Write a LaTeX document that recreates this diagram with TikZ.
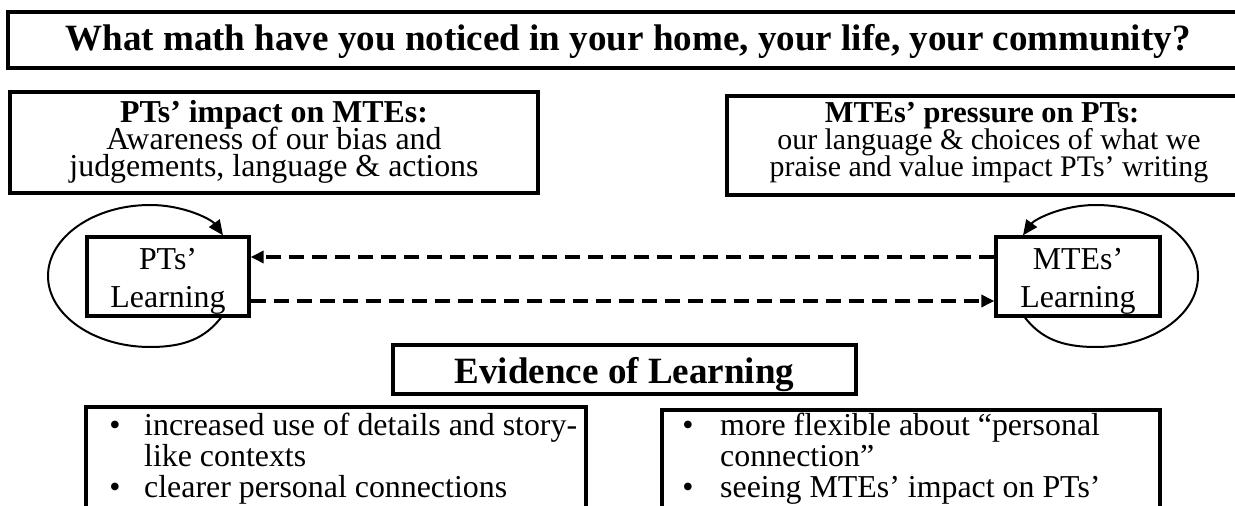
\documentclass[tikz,border=0pt]{standalone}
\usepackage{fontspec}
\setmainfont{Liberation Serif}
\usetikzlibrary{arrows.meta}
\tikzset{
  box/.style={draw, line width=3.3bp, inner sep=0pt},
  txt/.style={anchor=base, inner sep=0pt, font=\fontsize{32}{32}\selectfont},
  btxt/.style={txt, font=\fontsize{32}{32}\selectfont\bfseries},
  stxt/.style={txt, font=\fontsize{30}{30}\selectfont},
  sbtxt/.style={txt, font=\fontsize{30.5}{30}\selectfont\bfseries},
  bigtxt/.style={anchor=base, inner sep=0pt, font=\fontsize{37.2}{37}\selectfont\bfseries},
  ltxt/.style={txt, anchor=base west},
  dasharrow/.style={line width=3.3bp, dash pattern=on 15bp off 8bp, -{Triangle[length=13bp,width=12bp]}},
  looparrow/.style={line width=2bp, -{Triangle[length=15bp,width=13bp]}}
}
\begin{document}
\begin{tikzpicture}[x=1bp,y=-1bp]
\useasboundingbox (0,0) rectangle (1235,506);
\clip (0,0) rectangle (1235,506);
% boxes
\node[box, minimum width=1244bp, minimum height=56bp] (title) at (630,40) {};
\node[box, minimum width=528bp, minimum height=101bp] (lbox) at (274,142.5) {};
\node[box, minimum width=528bp, minimum height=99bp] (rbox) at (991,145.5) {};
\node[box, minimum width=162bp, minimum height=79bp] (pt) at (168,276.5) {};
\node[box, minimum width=164bp, minimum height=79bp] (mte) at (1078,276.5) {};
\node[box, minimum width=463bp, minimum height=49bp] (ev) at (624.5,369.5) {};
\node[box, minimum width=500bp, minimum height=133bp] (bl) at (336,473.5) {};
\node[box, minimum width=498bp, minimum height=130bp] (br) at (911,475) {};
% texts
\node[bigtxt] (titletxt) at (628,51) {What math have you noticed in your home, your life, your community?};
\node[btxt] (l1) at (274,123) {PTs’ impact on MTEs:};
\node[txt] (l2) at (274,150) {Awareness of our bias and};
\node[txt] (l3) at (274,177) {judgements, language \& actions};
\node[sbtxt] (r1) at (982,123) {MTEs’ pressure on PTs:};
\node[stxt] (r2) at (989,150) {our language \& choices of what we};
\node[stxt] (r3) at (989,177) {praise and value impact PTs’ writing};
\node[txt] (p1) at (168,270) {PTs’};
\node[txt] (p2) at (168,308) {Learning};
\node[txt] (m1) at (1078,270) {MTEs’};
\node[txt] (m2) at (1078,308) {Learning};
\node[bigtxt] (evtxt) at (624.5,384) {Evidence of Learning};
\node[txt] (bb1) at (115,435) {•};
\node[ltxt] (bl1) at (144,435) {increased use of details and story-};
\node[ltxt] (bl2) at (144,466) {like contexts};
\node[txt] (bb2) at (115,497) {•};
\node[ltxt] (bl3) at (144,497) {clearer personal connections};
\node[txt] (rb1) at (688,435) {•};
\node[ltxt] (br1) at (720,435) {more flexible about “personal};
\node[ltxt] (br2) at (720,466) {connection”};
\node[txt] (rb2) at (688,497) {•};
\node[ltxt] (br3) at (720,497) {seeing MTEs’ impact on PTs’};
% dashed connectors
\draw[dasharrow] ([yshift=19.5bp]mte.west) -- ([yshift=19.5bp]pt.east);
\draw[dasharrow] ([yshift=-24.5bp]pt.east) -- ([yshift=-24.5bp]mte.west);
% loops
\draw[looparrow] ([xshift=53bp]pt.south) .. controls (205,338) and (185,347) .. (150,347)
  .. controls (94,347) and (48,315) .. (48,276)
  .. controls (48,237) and (94,205) .. (150,205)
  .. controls (185,205) and (212,220) .. ([xshift=55bp]pt.north);
\draw[looparrow] ([xshift=-53bp]mte.south) .. controls (1041,338) and (1061,347) .. (1096,347)
  .. controls (1152,347) and (1198,315) .. (1198,276)
  .. controls (1198,237) and (1152,205) .. (1096,205)
  .. controls (1061,205) and (1034,220) .. ([xshift=-55bp]mte.north);
\end{tikzpicture}
\end{document}
